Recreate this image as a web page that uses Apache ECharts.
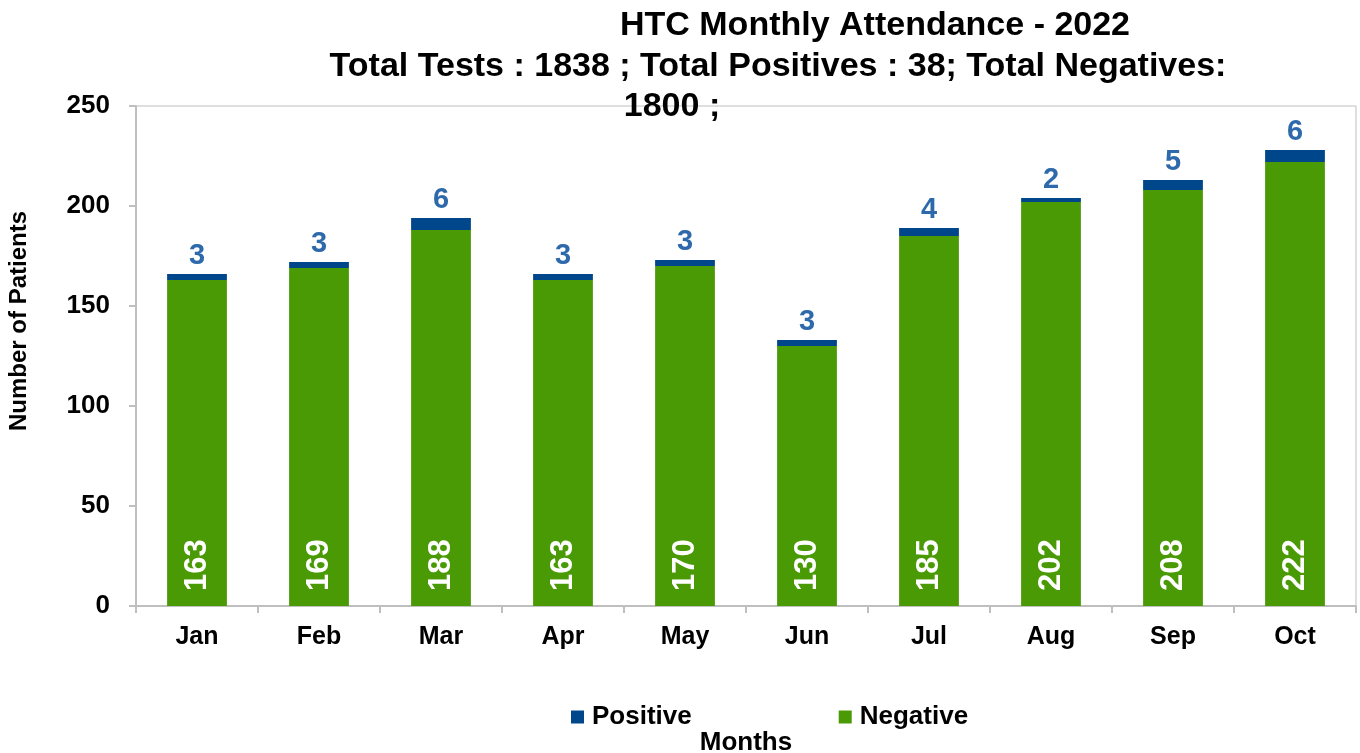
<!DOCTYPE html>
<html>
<head>
<meta charset="utf-8">
<script src="https://cdn.jsdelivr.net/npm/echarts@6/dist/echarts.min.js"></script>
<style>
html,body{margin:0;padding:0;background:#fff;overflow:hidden;}
#chart{width:1360px;height:753px;}
</style>
</head>
<body>
<div id="chart"></div>
<script>
const months = ['Jan','Feb','Mar','Apr','May','Jun','Jul','Aug','Sep','Oct'];
const positive = [3,3,6,3,3,3,4,2,5,6];
const negative = [163,169,188,163,170,130,185,202,208,222];
const yTicks = {min:0, max:250, interval:50};

const FONT = '"Liberation Sans", Arial, sans-serif';
const chart = echarts.init(document.getElementById('chart'));
chart.setOption({
  backgroundColor:'#fff',
  animation:false,
  title:[
    {text:'HTC Monthly Attendance - 2022', left:870, top:4, textAlign:'center',
     textStyle:{fontFamily:FONT, fontWeight:'bold', fontSize:34, color:'#000'}},
    {text:'Total Tests : 1838 ; Total Positives : 38; Total Negatives:', left:773, top:45, textAlign:'center',
     textStyle:{fontFamily:FONT, fontWeight:'bold', fontSize:34, color:'#000'}},
    {text:'1800 ;', left:667, top:85, textAlign:'center',
     textStyle:{fontFamily:FONT, fontWeight:'bold', fontSize:34, color:'#000'}}
  ],
  legend:{
    data:['Positive','Negative'], left:571, top:704, itemGap:147, padding:0,
    itemWidth:13, itemHeight:13, icon:'rect',
    itemStyle:{borderWidth:0},
    textStyle:{fontFamily:FONT, fontWeight:'bold', fontSize:26, color:'#000', padding:[0,0,0,3]}
  },
  grid:{left:136, right:4, top:106, height:500, show:true, borderColor:'#bfbfbf', borderWidth:1,
        outerBoundsMode:'none', containLabel:false},
  xAxis:{
    type:'category', data:months,
    name:'Months', nameLocation:'middle', nameGap:124,
    nameTextStyle:{fontFamily:FONT, fontWeight:'bold', fontSize:26, color:'#000'},
    axisLine:{lineStyle:{color:'#bfbfbf', width:2}},
    axisTick:{show:true, length:7, lineStyle:{color:'#bfbfbf', width:2}},
    axisLabel:{fontFamily:FONT, fontWeight:'bold', fontSize:25, color:'#000', margin:19}
  },
  yAxis:{
    type:'value', min:yTicks.min, max:yTicks.max, interval:yTicks.interval,
    name:'Number of Patients', nameLocation:'middle', nameGap:105, nameRotate:90,
    nameTextStyle:{fontFamily:FONT, fontWeight:'bold', fontSize:24, color:'#000', padding:[0,0,0,70]},
    axisLine:{show:true, lineStyle:{color:'#bfbfbf', width:2}},
    axisTick:{show:true, length:7, lineStyle:{color:'#bfbfbf', width:2}},
    splitLine:{show:false},
    axisLabel:{fontFamily:FONT, fontWeight:'bold', fontSize:26, color:'#000', margin:26}
  },
  series:[
    {name:'Negative', type:'bar', stack:'t', data:negative, barWidth:'49%',
     itemStyle:{color:'#4A9A06'},
     label:{show:true, position:'insideBottom', rotate:90, align:'left', verticalAlign:'middle', distance:15,
       fontFamily:FONT, fontWeight:'bold', fontSize:31, color:'#fff'}},
    {name:'Positive', type:'bar', stack:'t', data:positive, barWidth:'49%',
     itemStyle:{color:'#00468B'},
     label:{show:true, position:'top', distance:4,
       fontFamily:FONT, fontWeight:'bold', fontSize:29, color:'#2E6AAB'}}
  ]
});
</script>
</body>
</html>
